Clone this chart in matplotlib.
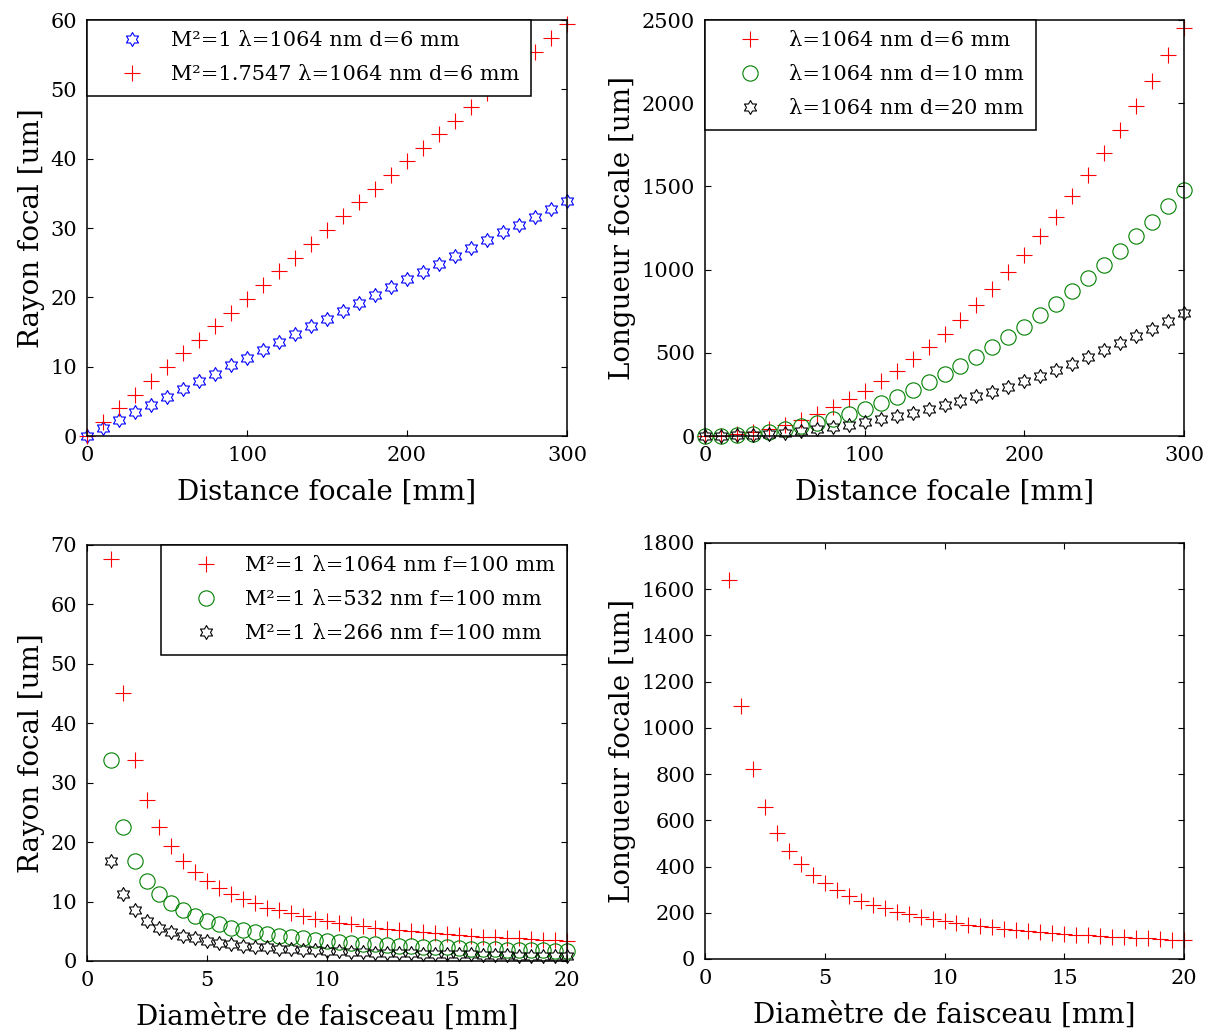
import numpy as np
import matplotlib
matplotlib.use('Agg')
import matplotlib.pyplot as plt
from matplotlib.path import Path

plt.rcParams['font.family'] = ['DejaVu Serif']
plt.rcParams['mathtext.fontset'] = 'dejavuserif'

# top row: focal distance in mm
f_mm = [0, 10, 20, 30, 40, 50, 60, 70, 80, 90, 100, 110, 120, 130, 140, 150,
        160, 170, 180, 190, 200, 210, 220, 230, 240, 250, 260, 270, 280, 290, 300]

# focal radius (um), d=6 mm
rayon_m1 = [0, 1.1, 2.3, 3.4, 4.5, 5.6, 6.8, 7.9, 9.0, 10.2, 11.3, 12.4, 13.5, 14.7, 15.8, 16.9,
            18.1, 19.2, 20.3, 21.5, 22.6, 23.7, 24.8, 26.0, 27.1, 28.2, 29.4, 30.5, 31.6, 32.7, 33.9]
rayon_m175 = [0, 2.0, 4.0, 5.9, 7.9, 9.9, 11.9, 13.9, 15.8, 17.8, 19.8, 21.8, 23.8, 25.7, 27.7, 29.7,
              31.7, 33.7, 35.6, 37.6, 39.6, 41.6, 43.6, 45.5, 47.5, 49.5, 51.5, 53.5, 55.4, 57.4, 59.4]

# focal length (um) for d = 6, 10, 20 mm
long_d6 = [0, 2.7, 10.9, 24.5, 43.6, 68, 98, 133, 174, 221, 272, 329, 392, 460, 534, 613,
           697, 787, 882, 983, 1089, 1201, 1318, 1440, 1568, 1701, 1840, 1985, 2134, 2289, 2450]
long_d10 = [0, 1.6, 6.6, 14.8, 26.3, 41, 59, 81, 105, 133, 164, 199, 237, 278, 322, 370,
            421, 475, 533, 594, 658, 725, 796, 870, 947, 1028, 1112, 1199, 1289, 1383, 1480]
long_d20 = [0, 0.8, 3.3, 7.4, 13.2, 20.6, 29.6, 40.3, 52.6, 66.6, 82, 99.5, 118, 139, 161, 185,
            210, 238, 266, 297, 329, 363, 398, 435, 474, 514, 556, 599, 645, 692, 740]

# bottom row: beam diameter in mm
d_mm = [1, 1.5, 2, 2.5, 3, 3.5, 4, 4.5, 5, 5.5, 6, 6.5, 7, 7.5, 8, 8.5, 9, 9.5, 10, 10.5,
        11, 11.5, 12, 12.5, 13, 13.5, 14, 14.5, 15, 15.5, 16, 16.5, 17, 17.5, 18, 18.5, 19, 19.5, 20]

rayon_1064 = [67.7, 45.1, 33.9, 27.1, 22.6, 19.3, 16.9, 15.0, 13.5, 12.3, 11.3, 10.4, 9.7, 9.0, 8.5,
              8.0, 7.5, 7.1, 6.8, 6.4, 6.2, 5.9, 5.6, 5.4, 5.2, 5.0, 4.8, 4.7, 4.5, 4.4, 4.2, 4.1,
              4.0, 3.9, 3.8, 3.7, 3.6, 3.5, 3.4]
rayon_532 = [33.9, 22.6, 16.9, 13.5, 11.3, 9.7, 8.5, 7.5, 6.8, 6.2, 5.6, 5.2, 4.8, 4.5, 4.2, 4.0,
             3.8, 3.6, 3.4, 3.2, 3.1, 2.9, 2.8, 2.7, 2.6, 2.5, 2.4, 2.3, 2.3, 2.2, 2.1, 2.1, 2.0,
             1.9, 1.9, 1.8, 1.8, 1.7, 1.7]
rayon_266 = [16.9, 11.3, 8.5, 6.8, 5.6, 4.8, 4.2, 3.8, 3.4, 3.1, 2.8, 2.6, 2.4, 2.3, 2.1, 2.0,
             1.9, 1.8, 1.7, 1.6, 1.5, 1.5, 1.4, 1.4, 1.3, 1.3, 1.2, 1.2, 1.1, 1.1, 1.1, 1.0,
             1.0, 1.0, 0.9, 0.9, 0.9, 0.9, 0.8]

long_1064 = [1640, 1093, 820, 656, 547, 469, 410, 364, 328, 298, 273, 252, 234, 219, 205, 193,
             182, 173, 164, 156, 149, 143, 137, 131, 126, 121, 117, 113, 109, 106, 103, 99,
             96, 94, 91, 89, 86, 84, 82]

# six pointed star (MATLAB hexagram), closed path
ang = np.deg2rad(np.arange(12) * 30 + 90)
rad = np.where(np.arange(12) % 2 == 0, 1.0, 0.577)
pts = np.column_stack([rad * np.cos(ang), rad * np.sin(ang)])
pts = np.vstack([pts, pts[:1]])
hexagram = Path(pts, [Path.MOVETO] + [Path.LINETO] * 11 + [Path.CLOSEPOLY])

common = dict(ls='none', mew=0.8, clip_on=False)
red = dict(marker='+', color='red', ms=12, **common)
green = dict(marker='o', color='green', mfc='none', ms=11, **common)
blue_star = dict(marker=hexagram, color='blue', mfc='none', ms=10, **common)
black_star = dict(marker=hexagram, color='black', mfc='none', ms=10, **common)

fig = plt.figure(figsize=(12.1, 10.32), dpi=100)
W, H = 1210, 1032


def make_ax(x0, x1, ytop, ybot):
    ax = fig.add_axes([x0 / W, 1 - ybot / H, (x1 - x0) / W, (ybot - ytop) / H])
    ax.tick_params(direction='in', top=True, right=True, labelsize=15, length=4, pad=7)
    for s in ax.spines.values():
        s.set_linewidth(1.1)
    return ax


def legend(ax, loc):
    leg = ax.legend(loc=loc, fontsize=15, borderaxespad=0, fancybox=False, framealpha=1,
                    edgecolor='black', numpoints=1, handlelength=3.2, handletextpad=0.3,
                    borderpad=0.55, labelspacing=0.72)
    leg.get_frame().set_linewidth(1.1)
    leg.set_zorder(5)
    return leg


# top left
ax1 = make_ax(87, 567, 20, 436)
ax1.plot(f_mm, rayon_m1, label='M²=1 λ=1064 nm d=6 mm', **blue_star)
ax1.plot(f_mm, rayon_m175, label='M²=1.7547 λ=1064 nm d=6 mm', **red)
ax1.set_xlim(0, 300)
ax1.set_ylim(0, 60)
ax1.set_xticks([0, 100, 200, 300])
ax1.set_xlabel('Distance focale [mm]', fontsize=20, labelpad=10)
ax1.set_ylabel('Rayon focal [um]', fontsize=20)
legend(ax1, 'upper left')

# top right
ax2 = make_ax(705, 1184, 20, 436)
ax2.plot(f_mm, long_d6, label='λ=1064 nm d=6 mm', **red)
ax2.plot(f_mm, long_d10, label='λ=1064 nm d=10 mm', **green)
ax2.plot(f_mm, long_d20, label='λ=1064 nm d=20 mm', **black_star)
ax2.set_xlim(0, 300)
ax2.set_ylim(0, 2500)
ax2.set_xticks([0, 100, 200, 300])
ax2.set_xlabel('Distance focale [mm]', fontsize=20, labelpad=10)
ax2.set_ylabel('Longueur focale [um]', fontsize=20)
legend(ax2, 'upper left')

# bottom left
ax3 = make_ax(87, 567, 545, 961)
ax3.plot(d_mm, rayon_1064, label='M²=1 λ=1064 nm f=100 mm', **red)
ax3.plot(d_mm, rayon_532, label='M²=1 λ=532 nm f=100 mm', **green)
ax3.plot(d_mm, rayon_266, label='M²=1 λ=266 nm f=100 mm', **black_star)
ax3.set_xlim(0, 20)
ax3.set_ylim(0, 70)
ax3.set_xticks([0, 5, 10, 15, 20])
ax3.set_xlabel('Diamètre de faisceau [mm]', fontsize=20, labelpad=10)
ax3.set_ylabel('Rayon focal [um]', fontsize=20)
legend(ax3, 'upper right')

# bottom right
ax4 = make_ax(705, 1184, 543, 959)
ax4.plot(d_mm, long_1064, **red)
ax4.set_xlim(0, 20)
ax4.set_ylim(0, 1800)
ax4.set_xticks([0, 5, 10, 15, 20])
ax4.set_yticks(range(0, 1801, 200))
ax4.set_xlabel('Diamètre de faisceau [mm]', fontsize=20, labelpad=10)
ax4.set_ylabel('Longueur focale [um]', fontsize=20)

fig.savefig('out.png', dpi=100)
